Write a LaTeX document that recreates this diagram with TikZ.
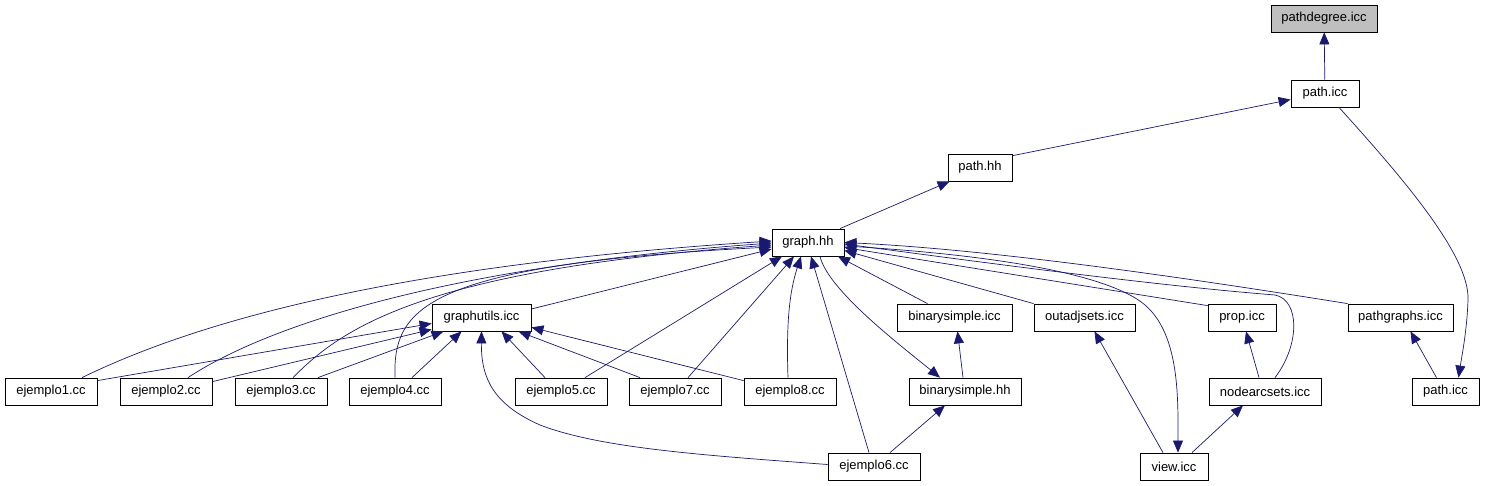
\documentclass[tikz,border=0pt]{standalone}
\usepackage{fontspec}
\setmainfont{Liberation Sans}
\usetikzlibrary{arrows.meta}
\definecolor{edgeblue}{RGB}{25,25,112}
\definecolor{focusgray}{RGB}{191,191,191}
\begin{document}
\begin{tikzpicture}[x=1pt,y=-1pt,
  file/.style={draw=black,fill=white,line width=0.8pt,minimum height=27pt,inner xsep=3pt,inner ysep=0pt,font=\fontsize{13}{15}\selectfont},
  dep/.style={draw=edgeblue,line width=0.7pt,-{Triangle[length=12pt,width=10pt]}}]
  \useasboundingbox (0,0) rectangle (1489,485);
  % top chain
  \node[file,fill=focusgray,minimum width=106pt] (pathdegree) at (1324,18.5) {pathdegree.icc};
  \node[file,minimum width=68pt] (pathtop) at (1325,93.5) {path.icc};
  \node[file,minimum width=64pt] (pathhh) at (980,167.5) {path.hh};
  \node[file,minimum width=72pt] (graphhh) at (808,242.5) {graph.hh};
  % second row
  \node[file,minimum width=99pt] (graphutils) at (481.5,317.5) {graphutils.icc};
  \node[file,minimum width=115pt] (binsimpleicc) at (954.5,317.5) {binarysimple.icc};
  \node[file,minimum width=101pt] (outadjsets) at (1084.5,317.5) {outadjsets.icc};
  \node[file,minimum width=68pt] (prop) at (1242,317.5) {prop.icc};
  \node[file,minimum width=105pt] (pathgraphs) at (1400.5,317.5) {pathgraphs.icc};
  % third row
  \node[file,minimum width=92pt] (ej1) at (51,391.5) {ejemplo1.cc};
  \node[file,minimum width=92pt] (ej2) at (166,391.5) {ejemplo2.cc};
  \node[file,minimum width=92pt] (ej3) at (281,391.5) {ejemplo3.cc};
  \node[file,minimum width=92pt] (ej4) at (395,391.5) {ejemplo4.cc};
  \node[file,minimum width=92pt] (ej5) at (561,391.5) {ejemplo5.cc};
  \node[file,minimum width=92pt] (ej7) at (675,391.5) {ejemplo7.cc};
  \node[file,minimum width=92pt] (ej8) at (790,391.5) {ejemplo8.cc};
  \node[file,minimum width=112pt] (binsimplehh) at (965,391.5) {binarysimple.hh};
  \node[file,minimum width=112pt] (nodearcsets) at (1265,391.5) {nodearcsets.icc};
  \node[file,minimum width=67pt] (pathbot) at (1445.5,391.5) {path.icc};
  % bottom row
  \node[file,minimum width=92pt] (ej6) at (874,466.5) {ejemplo6.cc};
  \node[file,minimum width=68pt] (view) at (1174,466.5) {view.icc};

  \draw[dep] (pathtop) -- (pathdegree);
  \draw[dep] (pathhh.20) -- (pathtop.190);
  \draw[dep] ([xshift=14pt]pathtop.south) .. controls (1400,175) and (1470,255) .. (1468,300) .. controls (1467,330) and (1462,355) .. ([xshift=13pt]pathbot.north);
  \draw[dep] ([xshift=32pt]graphhh.north) -- ([xshift=2pt]pathhh.south west);
  % into graph.hh
  \draw[dep] ([xshift=31pt]ej1.north) .. controls (200,320) and (400,265) .. ([yshift=1.5pt]graphhh.west);
  \draw[dep] ([xshift=22pt]ej2.north) .. controls (260,330) and (430,268) .. ([yshift=-0.5pt]graphhh.west);
  \draw[dep] ([xshift=12pt]ej3.north) .. controls (340,330) and (420,270) .. ([yshift=-2.5pt]graphhh.west);
  \draw[dep] (ej4.north) .. controls (393,310) and (420,265) .. ([yshift=-4.5pt]graphhh.west);
  \draw[dep] ([yshift=8.5pt]graphutils.east) -- ([yshift=-6.5pt]graphhh.west);
  \draw[dep] ([xshift=24pt]ej5.north) -- ([xshift=-26pt]graphhh.south);
  \draw[dep] ([xshift=13pt]ej7.north) -- ([xshift=-14pt]graphhh.south);
  \draw[dep] ([xshift=-2pt]ej8.north) .. controls (786,320) and (790,290) .. ([xshift=-7pt]graphhh.south);
  \draw[dep] ([xshift=-5pt]ej6.north) -- ([xshift=3pt]graphhh.south);
  \draw[dep] ([xshift=-27pt]binsimpleicc.north) -- ([xshift=30pt]graphhh.south);
  \draw[dep] (outadjsets.north west) -- ([yshift=-8pt]graphhh.east);
  \draw[dep] ([yshift=-2pt]prop.north west) -- ([yshift=-5pt]graphhh.east);
  \draw[dep] (pathgraphs.north west) .. controls (1200,280) and (1000,250) .. (graphhh.east);
  \draw[dep] ([xshift=10pt]nodearcsets.north) .. controls (1300,345) and (1300,300) .. (1275,295) .. controls (1150,285) and (980,262) .. ([yshift=-1.5pt]graphhh.east);
  % out of graph.hh
  \draw[dep] ([xshift=12pt]graphhh.south) .. controls (828,290) and (900,345) .. ([xshift=-25pt]binsimplehh.north);
  \draw[dep] ([yshift=-3.5pt]graphhh.east) .. controls (1000,255) and (1110,275) .. (1145,305) .. controls (1180,335) and (1178,400) .. ([xshift=4pt]view.north);
  % into graphutils.icc
  \draw[dep] ([yshift=-3pt]ej1.north east) -- ([yshift=-6pt]graphutils.west);
  \draw[dep] ([yshift=-4pt]ej2.north east) -- ([yshift=2pt]graphutils.south west);
  \draw[dep] ([xshift=37pt]ej3.north) -- ([xshift=-38pt]graphutils.south);
  \draw[dep] ([xshift=17pt]ej4.north) -- ([xshift=-20pt]graphutils.south);
  \draw[dep] ([yshift=2pt]ej6.west) .. controls (700,455) and (600,448) .. (540,425) .. controls (495,405) and (481,380) .. (graphutils.south);
  \draw[dep] ([xshift=-16pt]ej5.north) -- ([xshift=20pt]graphutils.south);
  \draw[dep] ([xshift=-35pt]ej7.north) -- ([xshift=37pt]graphutils.south);
  \draw[dep] ([yshift=-3pt]ej8.north west) -- ([yshift=4pt]graphutils.south east);
  % lower right
  \draw[dep] ([xshift=-2pt]binsimplehh.north) -- ([xshift=3pt]binsimpleicc.south);
  \draw[dep] ([xshift=16pt]ej6.north) -- ([xshift=-20pt]binsimplehh.south);
  \draw[dep] ([xshift=-11pt]view.north) -- ([xshift=10pt]outadjsets.south);
  \draw[dep] ([xshift=18pt]view.north) -- ([xshift=-22pt]nodearcsets.south);
  \draw[dep] ([xshift=-6pt]nodearcsets.north) -- ([xshift=4pt]prop.south);
  \draw[dep] ([xshift=-9pt]pathbot.north) -- ([xshift=10pt]pathgraphs.south);
\end{tikzpicture}
\end{document}
